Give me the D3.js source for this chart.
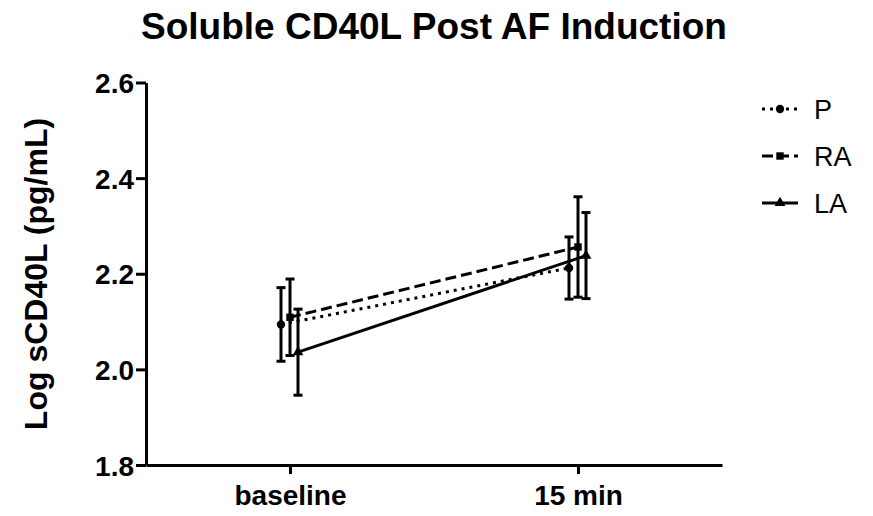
<!DOCTYPE html>
<html><head><meta charset="utf-8">
<script src="https://cdn.jsdelivr.net/npm/d3@7"></script>
<style>body{margin:0;background:#fff}svg{display:block}text{font-family:"Liberation Sans",Arial,sans-serif;fill:#000}</style>
</head><body><svg id="c" width="873" height="516"></svg>
<script>
const categories = ["baseline", "15 min"];
const seriesNames = ["P", "RA", "LA"];
const meanP = [2.094, 2.212];
const errP = [0.077, 0.065];
const meanRA = [2.109, 2.256];
const errRA = [0.080, 0.105];
const meanLA = [2.036, 2.238];
const errLA = [0.090, 0.090];
const yTicks = [1.8, 2.0, 2.2, 2.4, 2.6];

const series = [
  {name: "P", mean: meanP, err: errP, dash: "3,5", sym: "circle", off: -9},
  {name: "RA", mean: meanRA, err: errRA, dash: "11,5", sym: "square", off: 0},
  {name: "LA", mean: meanLA, err: errLA, dash: null, sym: "triangle", off: 8}
];

const svg = d3.select("#c");
const x = d3.scalePoint().domain(categories).range([146, 722]).padding(0.5);
const y = d3.scaleLinear().domain([1.8, 2.6]).range([465, 82.5]);

// axes
const yAxis = svg.append("g").attr("transform", "translate(146,0)")
  .call(d3.axisLeft(y).tickValues(yTicks).tickFormat(d3.format(".1f")).tickSize(10).tickSizeOuter(0));
const xAxis = svg.append("g").attr("transform", "translate(0,465)")
  .call(d3.axisBottom(x).tickSize(9).tickSizeOuter(0));
[yAxis, xAxis].forEach(a => {
  a.selectAll("path,line").attr("stroke", "#000").attr("stroke-width", 3);
  a.selectAll("text").style("font-size", "28px").style("font-weight", "bold")
    .style("font-family", '"Liberation Sans",Arial,sans-serif');
});
yAxis.selectAll("text").attr("x", -12).attr("dy", "0.36em");
xAxis.selectAll("text").attr("dy", "0").attr("y", 40);

// title
svg.append("text").attr("x", 434).attr("y", 39).attr("text-anchor", "middle")
  .style("font-size", "37px").style("font-weight", "bold").text("Soluble CD40L Post AF Induction");
svg.append("text").attr("transform", "translate(47,274) rotate(-90)").attr("text-anchor", "middle")
  .style("font-size", "32px").style("font-weight", "bold").text("Log sCD40L (pg/mL)");

const symGen = {
  circle: d3.symbol().type(d3.symbolCircle).size(55),
  square: d3.symbol().type(d3.symbolSquare).size(55),
  triangle: d3.symbol().type(d3.symbolTriangle).size(50)
};

series.forEach(s => {
  const g = svg.append("g");
  const pts = categories.map((c, i) => ({xv: x(c) + s.off, m: s.mean[i], e: s.err[i]}));
  const line = d3.line().x(d => d.xv).y(d => y(d.m));
  g.append("path").datum(pts).attr("d", line).attr("fill", "none").attr("stroke", "#000")
    .attr("stroke-width", 3).attr("stroke-dasharray", s.dash);
  pts.forEach(p => {
    g.append("line").attr("x1", p.xv).attr("x2", p.xv).attr("y1", y(p.m - p.e)).attr("y2", y(p.m + p.e))
      .attr("stroke", "#000").attr("stroke-width", 3);
    [p.m - p.e, p.m + p.e].forEach(v => g.append("line").attr("x1", p.xv - 4.5).attr("x2", p.xv + 4.5)
      .attr("y1", y(v)).attr("y2", y(v)).attr("stroke", "#000").attr("stroke-width", 3));
    g.append("path").attr("d", symGen[s.sym]()).attr("transform", `translate(${p.xv},${y(p.m)})`).attr("fill", "#000");
  });
});

// legend
const leg = svg.append("g");
series.forEach((s, i) => {
  const ly = 109 + i * 47;
  leg.append("line").attr("x1", 762).attr("x2", 798).attr("y1", ly).attr("y2", ly)
    .attr("stroke", "#000").attr("stroke-width", 3).attr("stroke-dasharray", s.dash);
  leg.append("path").attr("d", symGen[s.sym]()).attr("transform", `translate(780,${ly})`).attr("fill", "#000");
  leg.append("text").attr("x", 814).attr("y", ly).attr("dy", "0.36em").style("font-size", "27px").text(s.name);
});
</script></body></html>
